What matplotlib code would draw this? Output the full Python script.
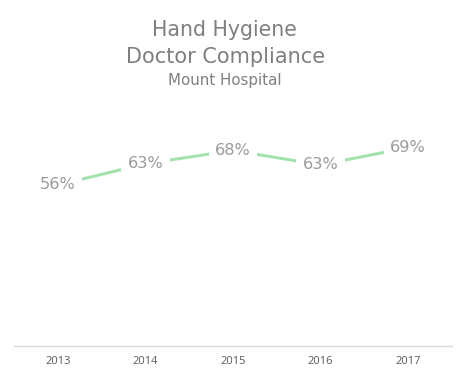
import matplotlib
matplotlib.use("Agg")
from matplotlib import pyplot as plt

years = ["2013", "2014", "2015", "2016", "2017"]
compliance = [0.56, 0.634, 0.68, 0.63, 0.69]

title_lines = ["Hand Hygiene", "Doctor Compliance"]
subtitle = "Mount Hospital"

line_color = "#a3e2ad"
label_color = "#9a9a9a"
title_color = "#7f7f7f"

fig = plt.figure(figsize=(4.66, 3.78), dpi=100)
ax = fig.add_axes([14 / 466, 32 / 378, 438 / 466, 230 / 378])

x = list(range(len(years)))
ax.plot(x, compliance, color=line_color, linewidth=2.2, solid_capstyle="butt", zorder=1)

# data labels sit on the points, white box hides the line under them
for xi, v in zip(x, compliance):
    ax.text(xi, v, "{:.0f}%".format(v * 100), ha="center", va="center",
            fontsize=11.6, color=label_color, family="DejaVu Sans",
            bbox=dict(boxstyle="square,pad=0.4", fc="white", ec="none"), zorder=2)

ax.set_xlim(-0.5, len(years) - 0.5)
ax.set_ylim(0, 0.8)
ax.set_xticks(x)
ax.set_xticklabels(years, fontsize=8, color="#595959", family="Open Sans")
ax.tick_params(axis="x", length=0, pad=7)
ax.set_yticks([])
for side in ["top", "left", "right"]:
    ax.spines[side].set_visible(False)
ax.spines["bottom"].set_color("#d9d9d9")
ax.spines["bottom"].set_linewidth(1)

fig.text(0.482, 1 - 30 / 378, title_lines[0], ha="center", va="center",
         fontsize=14.8, color=title_color, family="DejaVu Sans")
fig.text(0.485, 1 - 57 / 378, title_lines[1], ha="center", va="center",
         fontsize=15, color=title_color, family="DejaVu Sans")
fig.text(0.483, 1 - 81 / 378, subtitle, ha="center", va="center",
         fontsize=10.8, color=title_color, family="DejaVu Sans")

plt.savefig("out.png", dpi=100)
